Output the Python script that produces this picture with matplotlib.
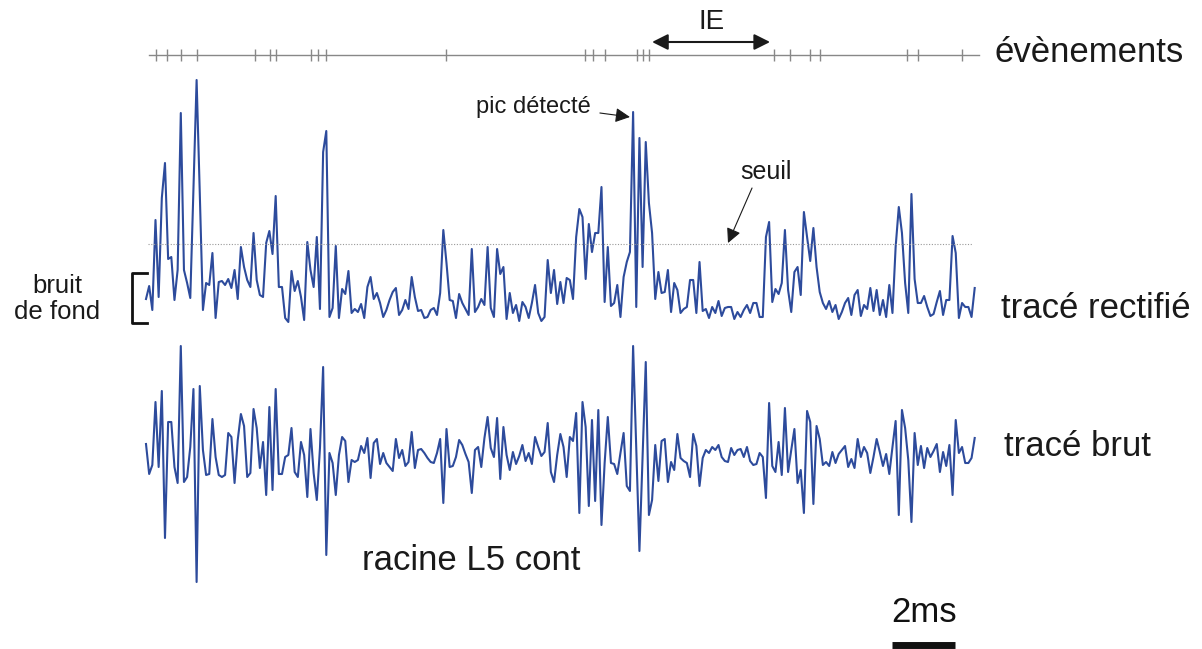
import numpy as np
import matplotlib.pyplot as plt

plt.rcParams['font.family'] = ['Liberation Sans', 'DejaVu Sans']

# sampling step of both traces (ms)
dt = 0.1

# rectified trace (arbitrary units, 0 = bottom of noise band)
rect = [31, 44, 20, 110, 33, 132, 167, 71, 73, 30, 60, 217, 60, 47, 32, 140, 250, 137, 20, 47,
        45, 77, 12, 48, 49, 45, 51, 42, 60, 31, 83, 63, 50, 43, 97, 50, 35, 33, 87, 99,
        76, 134, 43, 43, 12, 8, 59, 39, 49, 33, 10, 88, 60, 43, 93, 21, 178, 199, 13, 22,
        84, 12, 41, 36, 59, 17, 21, 18,
        26, 12, 43, 53, 31, 37, 27, 13, 20, 30, 38, 42, 15, 20, 30, 21, 53, 33, 19, 20,
        12, 13, 20, 22, 15, 37, 100, 67, 30, 29, 12, 36, 27, 21, 15, 81, 18, 23, 31, 25,
        83, 22, 13, 81, 56, 63, 11, 37, 17, 25, 9, 28, 23, 12, 27, 45, 17, 9, 13, 70,
        37, 60, 26, 48, 27, 52,
        50, 31, 93, 121, 113, 51, 106, 78, 97, 97, 143, 28, 83, 24, 27, 45, 13, 53, 68, 78,
        218, 23, 192, 63, 188, 127, 97, 31, 58, 37, 38, 60, 18, 47, 40, 17, 21, 23, 50, 50,
        17, 68, 19, 21, 12, 23, 17, 29, 14, 22, 23, 23, 11, 18, 13, 20, 25, 17, 27, 27,
        13, 13, 93, 108,
        28, 41, 36, 47, 100, 40, 18, 58, 63, 35, 118, 93, 69, 102, 63, 38, 27, 21, 29, 18,
        25, 11, 18, 27, 32, 15, 35, 40, 14, 25, 21, 42, 19, 40, 15, 30, 13, 45, 17, 83,
        123, 97, 47, 17, 136, 51, 27, 27, 34, 23, 14, 16, 28, 39, 15, 30, 30, 94, 77, 12,
        27, 23, 23, 13, 42]

# raw trace (same units, 0 = trace centre)
raw = [16, -14, -5, 58, -7, 69, -78, 38, 38, -7, -23, 114, -22, -17, 13, 71, -122, 74, 10, -15,
       -14, 41, 3, -15, -17, -15, 27, 23, -23, 20, 46, 34, -17, -13, 51, 32, -8, 18, -35, 53,
       -30, 71, -14, -14, 3, 5, 32, -12, -17, 18, 5, -37, 31, -13, -40, 12, 93, -95, 7, -3,
       -35, 5, 23, 19, -22, 0, -2, 0,
       14, 7, 22, -18, 17, 21, -4, 7, -3, -7, -11, 21, 2, 10, -6, -2, 28, -8, 10, 11,
       7, 2, -2, -3, 7, 21, -43, 31, -7, -6, 3, 20, 15, 6, -2, -33, 10, 13, -7, 22,
       43, 12, 3, 42, -19, 33, 5, -10, 8, -4, 4, 15, -1, 7, -4, 23, 13, 4, 8, 37,
       -12, -22, 5, 26, 13, -17,
       23, 19, 47, -53, 58, 33, -46, 40, -41, 50, -65, -3, 43, -3, -4, -14, 7, 27, -26, -31,
       114, 10, -91, 3, 98, -55, -40, 15, -21, 19, 21, -22, -2, -10, 26, 2, -1, -3, -17, 26,
       14, -26, 2, 10, 7, 13, 10, 15, 3, -1, -2, 12, 5, 10, 11, 3, 13, -1, -5, -4,
       7, 3, -38, 57,
       -6, -12, 18, -15, 52, -12, 10, 31, -23, -10, -53, 49, 38, -44, 34, 21, -5, -2, -6, 8,
       -3, 6, 10, 14, -7, 1, -8, 21, 3, 13, 7, -13, 3, 21, 8, -6, 6, -14, 13, 39,
       -55, 50, 32, 0, -62, 27, -5, 14, -8, 12, 3, 9, 16, -12, 8, -6, 15, -35, 40, 7,
       13, -3, -3, 2, 22]

threshold = 86
event_times = [0.32, 0.66, 1.11, 1.61, 3.45, 3.92, 4.11, 5.22, 5.44, 5.69, 9.48,
               13.88, 14.13, 14.51, 15.52, 15.71, 15.90, 19.85, 20.35, 20.99, 21.31,
               24.06, 24.41, 25.80]
ie_start, ie_end = 16.0, 19.73
scale_ms = 2

# layout (1 y unit = 1 px)
px_per_ms = 31.63
x0_px = 146
raw_offset = -130
events_y = 275
blue = '#2d4b9c'
ink = '#1a1a1a'

t = np.arange(len(rect)) * dt
t_raw = np.arange(len(raw)) * dt

fig = plt.figure(figsize=(12.02, 6.49), dpi=100)
ax = fig.add_axes([0, 0, 1, 1])
ax.set_xlim(-x0_px / px_per_ms, (1202 - x0_px) / px_per_ms)
ax.set_ylim(-319, 330)
ax.axis('off')

# traces
ax.plot(t, rect, color=blue, lw=1.5)
ax.plot(t_raw, np.array(raw) + raw_offset, color=blue, lw=1.5)

# threshold
ax.plot([0.06, 26.1], [threshold, threshold], color='#999999', lw=0.8,
        linestyle=(0, (1, 1.5)))

# events line with ticks
ax.plot([0.1, 26.35], [events_y, events_y], color='#888888', lw=1)
ax.vlines(event_times, events_y - 6, events_y + 6, color='#888888', lw=1)

# IE interval
ax.annotate('', xy=(ie_start, events_y + 13), xytext=(ie_end, events_y + 13),
            arrowprops=dict(arrowstyle='<|-|>', color=ink, lw=1.5,
                            mutation_scale=24, shrinkA=0, shrinkB=0))
ax.text((ie_start + ie_end) / 2, events_y + 33, 'IE', ha='center', va='center',
        fontsize=20, color=ink)

# labels on the right
ax.text(26.84, 278, 'évènements', ha='left', va='center', fontsize=25, color=ink)
ax.text(27.03, 22, 'tracé rectifié', ha='left', va='center', fontsize=25, color=ink)
ax.text(27.13, -117, 'tracé brut', ha='left', va='center', fontsize=25, color=ink)
ax.text(6.83, -230, 'racine L5 cont', ha='left', va='center', fontsize=25, color=ink)

# peak annotation
ax.text(14.05, 223, 'pic détecté', ha='right', va='center', fontsize=17, color=ink)
ax.annotate('', xy=(15.3, 213), xytext=(14.35, 217),
            arrowprops=dict(arrowstyle='-|>', color=ink, lw=0.8,
                            mutation_scale=22, shrinkA=0, shrinkB=0))

# threshold annotation
ax.text(19.6, 158, 'seuil', ha='center', va='center', fontsize=18, color=ink)
ax.annotate('', xy=(18.4, 87), xytext=(19.16, 142),
            arrowprops=dict(arrowstyle='-|>', color=ink, lw=0.8,
                            mutation_scale=22, shrinkA=0, shrinkB=0))

# background noise bracket
ax.plot([0.03, -0.45, -0.45, 0.03], [57, 57, 7, 7], color='#111111', lw=2)
ax.text(-2.81, 31, 'bruit\nde fond', ha='center', va='center', fontsize=18.5,
        color=ink, linespacing=1.1)

# scale bar
sb_x = 23.59
ax.plot([sb_x, sb_x + scale_ms], [-315, -315], color='#111111', lw=5,
        solid_capstyle='butt')
ax.text(sb_x + scale_ms / 2, -282, f'{scale_ms}ms', ha='center', va='center',
        fontsize=25, color='#111111')

fig.savefig('out.png', dpi=100)
